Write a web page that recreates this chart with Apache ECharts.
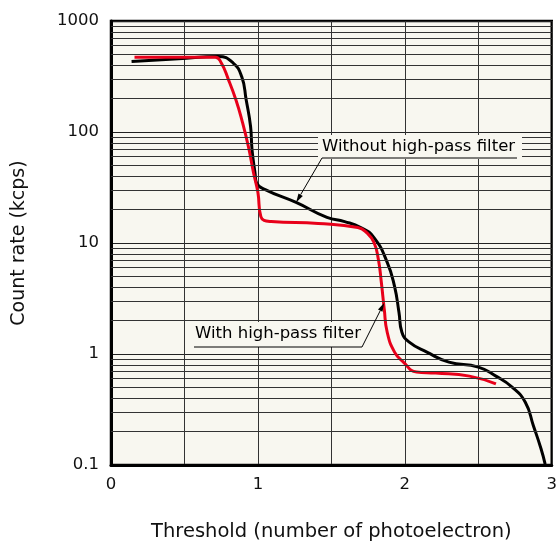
<!DOCTYPE html>
<html>
<head>
<meta charset="utf-8">
<script src="https://cdn.jsdelivr.net/npm/echarts@6/dist/echarts.min.js"></script>
<style>
  html, body { margin: 0; padding: 0; background: #fff; }
  #chart { width: 560px; height: 547px; }
</style>
</head>
<body>
<div id="chart"></div>
<script>
  // threshold (photoelectron) / count rate (kcps)
  var blackX = [0.14, 0.46, 0.73, 0.83, 0.89, 0.92, 0.95, 0.96, 0.98, 0.99, 1.05, 1.26, 1.47, 1.59, 1.70, 1.79, 1.88, 1.93, 1.96, 1.98, 2.03, 2.15, 2.30, 2.50, 2.62, 2.73, 2.82, 2.875, 2.927, 2.955];
  var blackY = [431, 456, 478, 420, 314, 195, 112, 69, 43, 35, 30.3, 23.2, 17, 15.6, 13.8, 11.2, 6.7, 4.07, 2.38, 1.57, 1.28, 1.04, 0.845, 0.762, 0.632, 0.504, 0.367, 0.226, 0.14, 0.102];
  var redX = [0.16, 0.71, 0.75, 0.80, 0.85, 0.89, 0.935, 0.97, 1.0, 1.02, 1.09, 1.41, 1.68, 1.74, 1.79, 1.82, 1.84, 1.86, 1.88, 1.93, 1.99, 2.08, 2.21, 2.44, 2.62];
  var redY = [472, 472, 420, 295, 195, 129, 74, 43, 28.5, 17.3, 15.6, 15.0, 13.8, 12.4, 10.1, 7.1, 4.43, 2.53, 1.57, 1.04, 0.845, 0.687, 0.673, 0.632, 0.537];
  var decades = [0.1, 1, 10, 100];
  var minorSteps = [2, 3, 4, 5, 6, 7, 8, 9];
  var labelWithout = 'Without high-pass filter';
  var labelWith = 'With high-pass filter';
  var pointWithout = [1.26, 23.2];
  var pointWith = [1.86, 2.9];

  var bg = '#f8f7f0';
  var font = 'DejaVu Sans';

  var minorLines = [];
  decades.forEach(function (d) {
    minorSteps.forEach(function (k) {
      minorLines.push({ yAxis: +(d * k).toPrecision(3) });
    });
  });

  function pairs(xs, ys) {
    return xs.map(function (x, i) { return [x, ys[i]]; });
  }

  var myChart = echarts.init(document.getElementById('chart'));
  var option = {
    animation: false,
    backgroundColor: '#fff',
    textStyle: { fontFamily: font },
    grid: {
      left: 111, right: 3, top: 21, bottom: 81,
      show: true,
      backgroundColor: bg,
      borderColor: '#000',
      borderWidth: 2.5
    },
    xAxis: {
      type: 'value',
      min: 0, max: 3, interval: 1,
      name: 'Threshold (number of photoelectron)',
      nameLocation: 'middle',
      nameGap: 57,
      nameTextStyle: { fontSize: 19.5, color: '#111' },
      axisLine: { show: true, lineStyle: { color: '#000', width: 3 } },
      axisTick: { show: false },
      axisLabel: { fontSize: 16.5, color: '#111', margin: 11 },
      splitLine: { show: true, lineStyle: { color: '#333', width: 1 } },
      minorTick: { show: false, splitNumber: 2 },
      minorSplitLine: { show: true, lineStyle: { color: '#333', width: 1 } }
    },
    yAxis: {
      type: 'log',
      logBase: 10,
      min: 0.1, max: 1000,
      name: 'Count rate (kcps)',
      nameLocation: 'middle',
      nameGap: 82,
      nameTextStyle: { fontSize: 19, color: '#111' },
      axisLine: { show: true, lineStyle: { color: '#000', width: 3 } },
      axisTick: { show: false },
      axisLabel: {
        fontSize: 16.5, color: '#111', margin: 12,
        formatter: function (v) { return String(v); }
      },
      splitLine: { show: true, lineStyle: { color: '#222', width: 1 } }
    },
    series: [{
      type: 'line',
      data: [],
      z: 1,
      silent: true,
      markLine: {
        silent: true,
        symbol: ['none', 'none'],
        label: { show: false },
        lineStyle: { color: '#333', width: 1, type: 'solid' },
        data: minorLines
      }
    }, {
      name: 'Without high-pass filter',
      type: 'line',
      data: pairs(blackX, blackY),
      showSymbol: false,
      smooth: 0.5,
      z: 3,
      lineStyle: { color: '#000', width: 3 }
    }, {
      name: 'With high-pass filter',
      type: 'line',
      data: pairs(redX, redY),
      showSymbol: false,
      smooth: 0.5,
      z: 4,
      lineStyle: { color: '#e8001a', width: 3 }
    }]
  };
  myChart.setOption(option);

  // leader lines with arrowheads pointing at the curves
  function arrow(from, to, id) {
    var dx = to[0] - from[0], dy = to[1] - from[1];
    var len = Math.sqrt(dx * dx + dy * dy);
    var ux = dx / len, uy = dy / len;
    var L = 9, W = 2.5;
    var bx = to[0] - ux * L, by = to[1] - uy * L;
    return [{
      type: 'line', id: id + 'l', z: 50,
      shape: { x1: from[0], y1: from[1], x2: bx, y2: by },
      style: { stroke: '#000', lineWidth: 1 }
    }, {
      type: 'polygon', id: id + 'h', z: 50,
      shape: { points: [to, [bx - uy * W, by + ux * W], [bx + uy * W, by - ux * W]] },
      style: { fill: '#000' }
    }];
  }

  var tipA = myChart.convertToPixel({ gridIndex: 0 }, pointWithout);
  var tipB = myChart.convertToPixel({ gridIndex: 0 }, pointWith);

  var graphics = [
    { type: 'rect', z: 40, shape: { x: 318, y: 135, width: 204, height: 24 }, style: { fill: bg } },
    { type: 'text', z: 45, x: 322, y: 147, style: { text: labelWithout, font: '16.5px "DejaVu Sans"', fill: '#000', textVerticalAlign: 'middle' } },
    { type: 'line', z: 45, shape: { x1: 322, y1: 158, x2: 517, y2: 158 }, style: { stroke: '#000', lineWidth: 1 } },
    { type: 'rect', z: 40, shape: { x: 190, y: 322, width: 176, height: 25 }, style: { fill: bg } },
    { type: 'text', z: 45, x: 195, y: 334, style: { text: labelWith, font: '16.5px "DejaVu Sans"', fill: '#000', textVerticalAlign: 'middle' } },
    { type: 'line', z: 45, shape: { x1: 194, y1: 347, x2: 362, y2: 347 }, style: { stroke: '#000', lineWidth: 1 } }
  ];
  graphics = graphics.concat(arrow([322, 158], tipA, 'a'), arrow([362, 347], tipB, 'b'));
  myChart.setOption({ graphic: graphics });
</script>
</body>
</html>
